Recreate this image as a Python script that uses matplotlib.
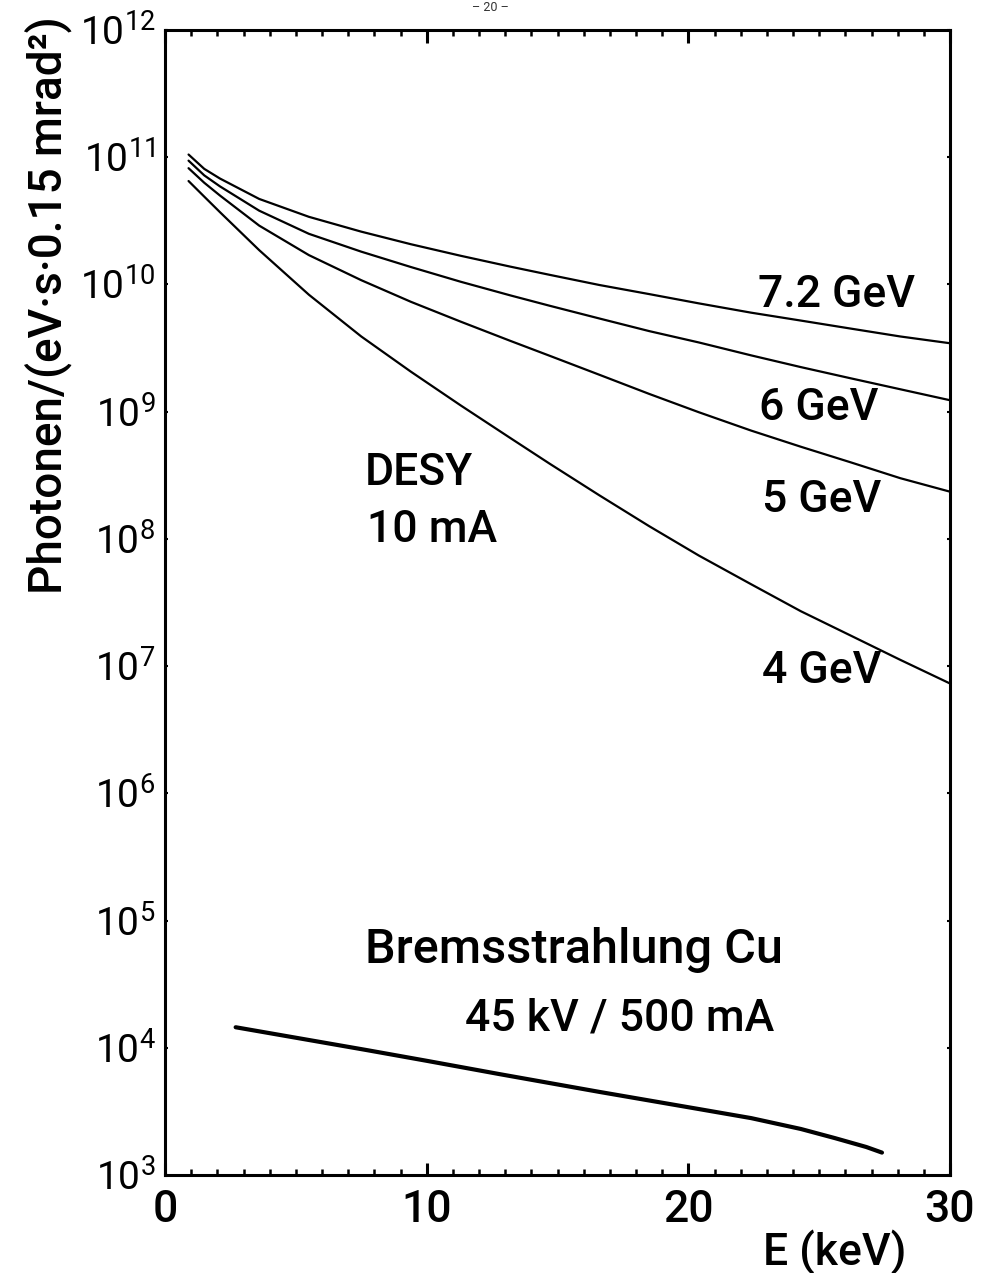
import math
import matplotlib
matplotlib.use("Agg")
import matplotlib.pyplot as plt
from matplotlib.ticker import FixedLocator, MultipleLocator, FuncFormatter

plt.rcParams['font.family'] = ['Roboto', 'DejaVu Sans']
plt.rcParams['mathtext.fontset'] = 'custom'
plt.rcParams['mathtext.rm'] = 'Roboto'
plt.rcParams['mathtext.it'] = 'Roboto:italic'
plt.rcParams['mathtext.bf'] = 'Roboto:bold'

# ---- data ----
energy_keV = [0.9, 1.5, 2.1, 3.6, 5.5, 7.5, 9.4, 11.3, 13.2, 14.7, 16.6, 18.5,
              20.4, 22.4, 24.3, 26.2, 28.1, 30.0]
flux_7_2GeV = [1.05e11, 8.1e10, 6.8e10, 4.7e10, 3.4e10, 2.6e10, 2.07e10, 1.68e10, 1.38e10,
               1.19e10, 9.9e9, 8.4e9, 7.1e9, 6.0e9, 5.2e9, 4.5e9, 3.9e9, 3.45e9]
flux_6GeV = [9.4e10, 7.2e10, 5.9e10, 3.8e10, 2.5e10, 1.81e10, 1.37e10, 1.05e10, 8.2e9,
             6.8e9, 5.4e9, 4.3e9, 3.5e9, 2.77e9, 2.24e9, 1.83e9, 1.5e9, 1.23e9]
flux_5GeV = [8.2e10, 6.3e10, 5.0e10, 2.9e10, 1.7e10, 1.08e10, 7.3e9, 5.1e9, 3.6e9,
             2.75e9, 1.95e9, 1.38e9, 9.9e8, 7.1e8, 5.3e8, 4.0e8, 3.0e8, 2.35e8]
flux_4GeV = [6.5e10, 4.9e10, 3.7e10, 1.86e10, 8.3e9, 3.9e9, 2.06e9, 1.12e9, 6.2e8,
             3.9e8, 2.2e8, 1.26e8, 7.4e7, 4.4e7, 2.7e7, 1.74e7, 1.12e7, 7.3e6]

brems_energy_keV = [2.7, 5.2, 7.7, 10.0, 12.8, 16.6, 20.4, 22.4, 24.3, 25.6, 26.8, 27.4]
brems_flux = [1.45e4, 1.18e4, 9.6e3, 7.9e3, 6.2e3, 4.5e3, 3.3e3, 2.8e3, 2.3e3, 1.95e3,
              1.66e3, 1.5e3]

curve_labels = ['7.2 GeV', '6 GeV', '5 GeV', '4 GeV']
x_ticks = [0, 10, 20, 30]
y_decades = [3, 4, 5, 6, 7, 8, 9, 10, 11, 12]

# ---- figure ----
fig = plt.figure(figsize=(9.81, 12.73), dpi=100)
ax = fig.add_axes([165/981, 1 - 1175/1273, (950-165)/981, (1175-30)/1273])

for f in [flux_7_2GeV, flux_6GeV, flux_5GeV, flux_4GeV]:
    ax.plot(energy_keV, f, color='black', lw=1.6, solid_capstyle='round',
            solid_joinstyle='round')
ax.plot(brems_energy_keV, brems_flux, color='black', lw=3.0, solid_capstyle='round',
        solid_joinstyle='round')

ax.set_yscale('log')
ax.set_xlim(0, 30)
ax.set_ylim(1e3, 1e12)

ax.xaxis.set_major_locator(FixedLocator(x_ticks))
ax.xaxis.set_minor_locator(MultipleLocator(1))
ax.yaxis.set_major_locator(FixedLocator([10.0**d for d in y_decades]))
ax.yaxis.set_minor_locator(FixedLocator([]))
ax.yaxis.set_major_formatter(FuncFormatter(lambda v, p: r'$10^{%d}$' % round(math.log10(v))))

ax.tick_params(axis='x', which='major', direction='in', top=True, length=9, width=2.2,
               labelsize=32, pad=10)
ax.tick_params(axis='x', which='minor', direction='in', top=True, length=4, width=1.8)
ax.tick_params(axis='y', which='major', direction='in', right=True, length=2.5, width=1.5,
               labelsize=28, pad=7)
for lab in ax.get_xticklabels() + ax.get_yticklabels():
    lab.set_fontweight('medium')
for s in ax.spines.values():
    s.set_linewidth(2.2)

tkw = dict(fontsize=32, ha='left', va='baseline', fontweight='medium')
# curve labels
ax.text(22.65, 6.6e9, curve_labels[0], **tkw)
ax.text(22.7, 8.6e8, curve_labels[1], **tkw)
ax.text(22.8, 1.63e8, curve_labels[2], **tkw)
ax.text(22.8, 7.35e6, curve_labels[3], **tkw)

ax.text(7.64, 2.65e8, 'DESY', **tkw)
ax.text(7.72, 9.4e7, '10 mA', **tkw)
ax.text(7.64, 4.6e4, 'Bremsstrahlung Cu', fontsize=35, ha='left', va='baseline',
        fontweight='medium')
ax.text(11.46, 1.37e4, '45 kV / 500 mA', **tkw)

fig.text(835/981, 1 - 1265/1273, 'E (keV)', fontsize=32, ha='center', va='baseline',
         fontweight='medium')
fig.text(48/981, 1 - 305/1273, 'Photonen/(eV·s·0.15 mrad²)', fontsize=33,
         rotation=90, ha='center', va='center', fontweight='medium')
fig.text(490/981, 0.999, '– 20 –', fontsize=9, ha='center', va='top', color='#333333')

fig.savefig('out.png', dpi=100)
